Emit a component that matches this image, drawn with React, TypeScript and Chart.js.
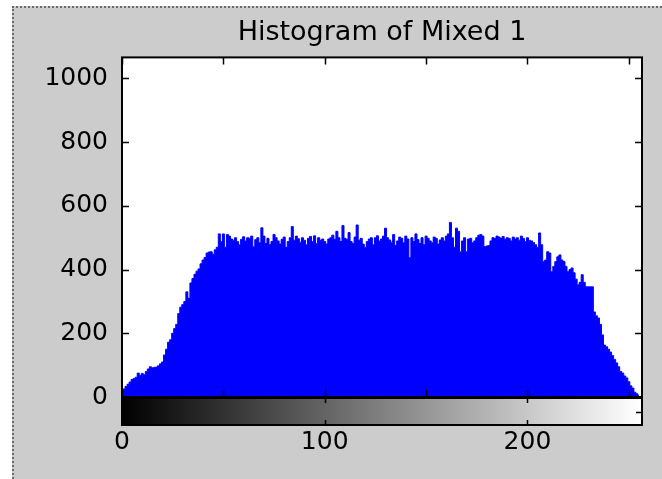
import React, { useEffect, useRef } from 'react';
import { Chart, registerables } from 'chart.js';

Chart.register(...registerables);

const TITLE = 'Histogram of Mixed 1';

// Histogram counts, bins 0..47 (rising edge)
const RAMP_UP = [
  15, 25, 33, 40, 47, 55, 58, 62, 75, 68,
  74, 70, 80, 88, 95, 92, 93, 94, 98, 104,
  110, 132, 150, 172, 180, 200, 215, 228, 262, 282,
  290, 300, 330, 310, 358, 372, 385, 395, 402, 418,
  430, 438, 452, 455, 456, 448, 462, 470,
];

// bins 48..205 (plateau)
const PLATEAU = [
  512, 488, 512, 470, 510, 505, 496, 492, 500, 488,
  478, 495, 503, 490, 500, 498, 505, 472, 494, 500,
  484, 531, 505, 482, 498, 478, 488, 510, 500, 490,
  480, 495, 502, 470, 488, 500, 535, 492, 505, 497,
  486, 500, 492, 478, 498, 504, 488, 506, 482, 500,
  492, 496, 488, 480, 496, 500, 508, 495, 520, 500,
  488, 538, 498, 495, 516, 488, 482, 502, 540, 492,
  498, 480, 470, 488, 496, 500, 478, 500, 506, 490,
  496, 505, 530, 500, 493, 486, 510, 476, 490, 502,
  498, 484, 505, 496, 437, 500, 488, 512, 494, 482,
  500, 478, 505, 498, 490, 484, 502, 498, 480, 493,
  500, 490, 505, 512, 548, 500, 470, 530, 520, 456,
  490, 500, 456, 496, 498, 484, 490, 500, 508, 510,
  505, 472, 474, 475, 490, 500, 498, 505, 502, 498,
  504, 495, 500, 498, 490, 502, 496, 500, 492, 505,
  498, 488, 500, 492, 490, 485, 478, 470,
];

// bins 206..255 (falling edge)
const RAMP_DOWN = [
  515, 478, 425, 430, 456, 452, 393, 410, 425, 440,
  446, 430, 425, 410, 393, 400, 405, 390, 370, 352,
  360, 384, 360, 346, 346, 346, 346, 267, 255, 248,
  228, 195, 163, 158, 150, 141, 130, 118, 107, 95,
  80, 75, 66, 60, 48, 35, 28, 15, 10, 5,
];

const COUNTS = [...RAMP_UP, ...PLATEAU, ...RAMP_DOWN];
const BINS = COUNTS.map((_, i) => i);

const X_LABEL_TICKS = [0, 100, 200];
const X_FRAME_TICKS = [0, 50, 100, 150, 200, 250];
const Y_TICKS = [0, 200, 400, 600, 800, 1000];
const X_MIN = 0;
const X_MAX = 256.5;
const GRAY_MAX = 255;
const Y_MIN = 0;
const Y_MAX = 1066;

const FONT = "'DejaVu Sans', 'Liberation Sans', sans-serif";

const framePlugin = {
  id: 'matlabFrame',
  beforeDatasetsDraw(chart: any) {
    const { ctx, chartArea } = chart;
    ctx.save();
    ctx.fillStyle = '#ffffff';
    ctx.fillRect(chartArea.left, chartArea.top, chartArea.right - chartArea.left, chartArea.bottom - chartArea.top);
    ctx.restore();
  },
  afterDraw(chart: any) {
    const { ctx, chartArea } = chart;
    const xs = chart.scales.x;
    const ys = chart.scales.y;
    const { left, right, top, bottom } = chartArea;
    const tick = 7;
    ctx.save();
    ctx.strokeStyle = '#000';
    ctx.lineWidth = 1.5;
    ctx.beginPath();
    X_FRAME_TICKS.forEach((v) => {
      const px = Math.round(xs.getPixelForValue(v)) + 0.5;
      ctx.moveTo(px, top);
      ctx.lineTo(px, top + tick);
      ctx.moveTo(px, bottom);
      ctx.lineTo(px, bottom - tick);
    });
    Y_TICKS.forEach((v) => {
      const py = Math.round(ys.getPixelForValue(v)) + 0.5;
      ctx.moveTo(left, py);
      ctx.lineTo(left + tick, py);
      ctx.moveTo(right, py);
      ctx.lineTo(right - tick, py);
    });
    ctx.stroke();
    ctx.lineWidth = 2;
    ctx.strokeRect(left, top, right - left, bottom - top);

    // gray-level colorbar below the axes
    const cbTop = bottom + 1;
    const cbH = 27;
    const g = ctx.createLinearGradient(xs.getPixelForValue(X_MIN), 0, xs.getPixelForValue(GRAY_MAX), 0);
    g.addColorStop(0, '#000000');
    g.addColorStop(1, '#ffffff');
    ctx.fillStyle = g;
    ctx.fillRect(left, cbTop, right - left, cbH);
    ctx.lineWidth = 1.5;
    ctx.beginPath();
    X_LABEL_TICKS.forEach((v) => {
      const px = Math.round(xs.getPixelForValue(v)) + 0.5;
      ctx.moveTo(px, cbTop);
      ctx.lineTo(px, cbTop + 5);
      ctx.moveTo(px, cbTop + cbH);
      ctx.lineTo(px, cbTop + cbH - 5);
    });
    const mid = Math.round(cbTop + cbH / 2) + 0.5;
    ctx.moveTo(right, mid);
    ctx.lineTo(right - 6, mid);
    ctx.stroke();
    ctx.lineWidth = 2;
    ctx.strokeRect(left, cbTop, right - left, cbH);
    ctx.restore();
  },
};

export default function App() {
  const ref = useRef<HTMLCanvasElement | null>(null);

  useEffect(() => {
    if (!ref.current) return;
    const chart = new Chart(ref.current, {
      type: 'line',
      data: {
        datasets: [
          {
            data: BINS.map((b, i) => ({ x: b, y: COUNTS[i] })),
            backgroundColor: '#0000ff',
            borderColor: '#0000ff',
            borderWidth: 1,
            pointRadius: 0,
            stepped: 'middle',
            fill: 'origin',
          },
        ],
      },
      options: {
        animation: false,
        responsive: false,
        devicePixelRatio: 1,
        events: [],
        layout: { padding: { left: 0, right: 20, top: 0, bottom: 0 } },
        plugins: {
          legend: { display: false },
          tooltip: { enabled: false },
          title: {
            display: true,
            fullSize: false,
            text: TITLE,
            color: '#000',
            font: { family: FONT, size: 27, weight: 'normal' },
            padding: { top: 17, bottom: 8 },
          },
        },
        scales: {
          x: {
            type: 'linear',
            min: X_MIN,
            max: X_MAX,
            offset: false,
            grid: { display: false, offset: false, drawTicks: false },
            border: { display: false },
            afterBuildTicks: (s: any) => {
              s.ticks = X_LABEL_TICKS.map((v) => ({ value: v }));
            },
            afterFit: (s: any) => {
              s.height = 82;
            },
            ticks: {
              autoSkip: false,
              maxRotation: 0,
              padding: 30,
              color: '#000',
              font: { family: FONT, size: 25 },
              callback: (v: any) => String(v),
            },
          },
          y: {
            type: 'linear',
            min: Y_MIN,
            max: Y_MAX,
            grid: { display: false, drawTicks: false },
            border: { display: false },
            afterBuildTicks: (s: any) => {
              s.ticks = Y_TICKS.map((v) => ({ value: v }));
            },
            afterFit: (s: any) => {
              s.width = 122;
            },
            ticks: {
              padding: 14,
              color: '#000',
              font: { family: FONT, size: 25 },
              callback: (v: any) => String(v),
            },
          },
        },
      },
      plugins: [framePlugin],
    });
    return () => chart.destroy();
  }, []);

  return (
    <div style={{ position: 'fixed', left: 0, top: 0, width: 662, height: 479, background: '#ffffff', overflow: 'hidden' }}>
      <div
        style={{
          position: 'absolute',
          left: 12,
          top: 6,
          right: 0,
          bottom: 0,
          background: '#cccccc',
          borderLeft: '2px dotted #6a6a6a',
          borderTop: '2px dotted #6a6a6a',
        }}
      />
      <canvas ref={ref} width={662} height={479} style={{ position: 'absolute', left: 0, top: 0 }} />
    </div>
  );
}
